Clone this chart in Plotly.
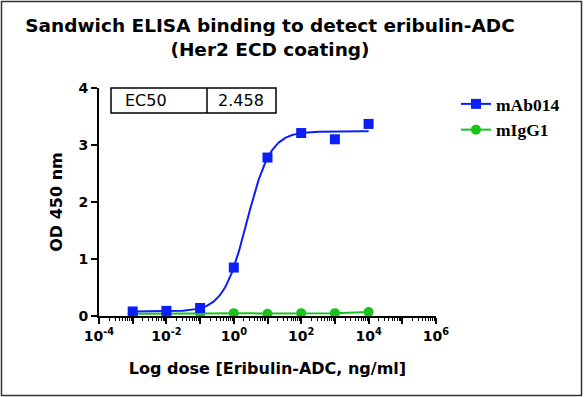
import numpy as np
import plotly.graph_objects as go

# ---- data ----
dose = [0.001, 0.01, 0.1, 1, 10, 100, 1000, 10000]
mab014 = [0.08, 0.09, 0.14, 0.85, 2.78, 3.21, 3.10, 3.37]
migg1 = [0.04, 0.04, 0.04, 0.05, 0.04, 0.05, 0.05, 0.07]
# 4PL fit parameters for mAb014
fit_bottom = 0.08
fit_top = 3.24
fit_ec50 = 2.458
fit_hill = 1.25
ec50_label = ["EC50", "2.458"]
series_names = ["mAb014", "mIgG1"]
x_tickvals = [1e-4, 1e-3, 1e-2, 1e-1, 1, 1e1, 1e2, 1e3, 1e4, 1e5, 1e6]
x_ticktext = ["10<sup>-4</sup>", "", "10<sup>-2</sup>", "", "10<sup>0</sup>", "",
              "10<sup>2</sup>", "", "10<sup>4</sup>", "", "10<sup>6</sup>"]
y_tickvals = [0, 1, 2, 3, 4]

BLUE = "#0A1EF5"
GREEN = "#19C319"
SANS = "DejaVu Sans"

W, H = 584, 397
L, R, T, B = 99, 148, 88, 81
pw, ph = W - L - R, H - T - B

xf = np.logspace(np.log10(dose[0]), np.log10(dose[-1]), 300)
yf = fit_bottom + (fit_top - fit_bottom) / (1 + (fit_ec50 / xf) ** fit_hill)

fig = go.Figure()
fig.add_trace(go.Scatter(x=dose, y=migg1, mode="lines+markers", name=series_names[1],
                         line=dict(color=GREEN, width=2),
                         marker=dict(symbol="circle", size=10, color=GREEN), legendrank=2))
fig.add_trace(go.Scatter(x=xf, y=yf, mode="lines", line=dict(color=BLUE, width=2),
                         showlegend=False, hoverinfo="skip"))
fig.add_trace(go.Scatter(x=dose, y=mab014, mode="markers", name=series_names[0],
                         marker=dict(symbol="square", size=10, color=BLUE), showlegend=False))
# legend entry for mAb014 (line + marker)
fig.add_trace(go.Scatter(x=[None], y=[None], mode="lines+markers", name=series_names[0],
                         line=dict(color=BLUE, width=2),
                         marker=dict(symbol="square", size=10, color=BLUE), legendrank=1))

fig.update_xaxes(type="log", range=[-4, 6], tickmode="array", tickvals=x_tickvals,
                 ticktext=x_ticktext, automargin=False,
                 showline=True, linecolor="black", linewidth=2, ticks="outside",
                 ticklen=6, tickwidth=2, tickcolor="black", showgrid=False, zeroline=False,
                 tickfont=dict(family=SANS, size=14, color="black", weight="bold"),
                 minor=dict(ticks="outside", ticklen=3, tickwidth=1, tickcolor="black",
                            dtick="D1", showgrid=False),
                 title=dict(text="Log dose [Eribulin-ADC, ng/ml]", standoff=20,
                            font=dict(family=SANS, size=16, color="black", weight="bold")))
fig.update_yaxes(range=[0, 4], tickmode="array", tickvals=y_tickvals, automargin=False,
                 showline=True, linecolor="black", linewidth=2,
                 ticks="outside", ticklen=6, tickwidth=2, tickcolor="black",
                 showgrid=False, zeroline=False,
                 tickfont=dict(family=SANS, size=14, color="black", weight="bold"),
                 title=dict(text="OD 450 nm", standoff=12,
                            font=dict(family=SANS, size=16, color="black", weight="bold")))

# EC50 table
bx0, bdiv, bx1 = (111 - L) / pw, (207 - L) / pw, (276 - L) / pw
by0, by1 = (H - B - 113) / ph, 1.0
fig.add_shape(type="rect", xref="paper", yref="paper", x0=bx0, x1=bx1, y0=by0, y1=by1,
              line=dict(color="black", width=1.5))
fig.add_shape(type="line", xref="paper", yref="paper", x0=bdiv, x1=bdiv, y0=by0, y1=by1,
              line=dict(color="black", width=1.5))
fig.add_annotation(xref="paper", yref="paper", x=(146 - L) / pw, y=(by0 + by1) / 2,
                   xanchor="center", yanchor="middle",
                   text=ec50_label[0], showarrow=False,
                   font=dict(family=SANS, size=16, color="black"))
fig.add_annotation(xref="paper", yref="paper", x=(241 - L) / pw, y=(by0 + by1) / 2,
                   xanchor="center", yanchor="middle",
                   text=ec50_label[1], showarrow=False,
                   font=dict(family=SANS, size=16, color="black"))

# outer border
fig.add_shape(type="rect", xref="paper", yref="paper",
              x0=(1.5 - L) / pw, x1=(581.5 - L) / pw,
              y0=(H - B - 395.5) / ph, y1=(H - B - 1.5) / ph,
              line=dict(color="#333", width=1.5))

fig.update_layout(
    width=W, height=H, margin=dict(l=L, r=R, t=T, b=B),
    paper_bgcolor="white", plot_bgcolor="white",
    title=dict(text="Sandwich ELISA binding to detect eribulin-ADC<br>(Her2 ECD coating)",
               x=270 / W, xanchor="center", y=1 - 32 / H, yanchor="top",
               font=dict(family=SANS, size=18.5, color="black", weight="bold")),
    legend=dict(x=(456 - L) / pw, y=(H - B - 86) / ph, xanchor="left", yanchor="top",
                font=dict(family="Liberation Serif", size=17.5, color="black", weight="bold"),
                bgcolor="rgba(0,0,0,0)", tracegroupgap=2, itemwidth=30),
    showlegend=True,
)

fig.write_html("out.html", config={"displayModeBar": False},
               post_script="document.body.style.margin='0';")
